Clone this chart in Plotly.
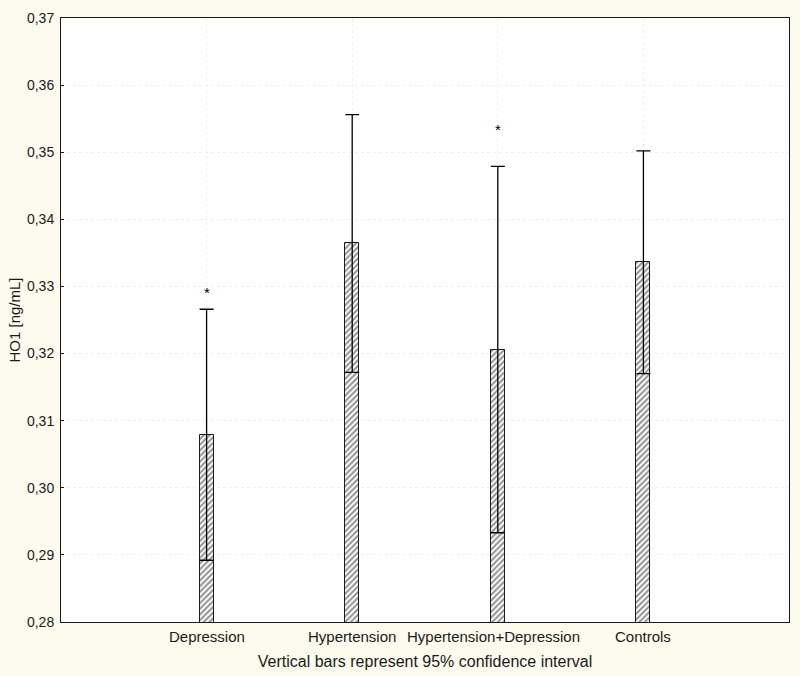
import plotly.graph_objects as go

categories = ["Depression", "Hypertension", "Hypertension+Depression", "Controls"]
means = [0.3079, 0.3364, 0.3206, 0.3336]
ci95 = [0.0187, 0.0192, 0.0273, 0.0166]
star_cats = ["Depression", "Hypertension+Depression"]
star_y = [0.3289, 0.3533]

y_ticks = [0.28, 0.29, 0.30, 0.31, 0.32, 0.33, 0.34, 0.35, 0.36, 0.37]

FONT = "Liberation Sans, Arial, sans-serif"
TXT = "#1a1a1a"
label_xshift = [0, 0, -4, 0]

fig = go.Figure()
fig.add_trace(go.Bar(
    x=categories,
    y=means,
    width=0.095,
    marker=dict(
        color="white",
        line=dict(color="#1a1a1a", width=1),
        pattern=dict(shape="/", fgcolor="#222222", bgcolor="white", size=4, solidity=0.5),
    ),
    error_y=dict(type="data", array=ci95, symmetric=True, color="black", thickness=1.3, width=7),
    hoverinfo="skip",
))

for c, yv in zip(star_cats, star_y):
    fig.add_annotation(x=c, y=yv, text="*", showarrow=False, xref="x", yref="y",
                       yanchor="middle", yshift=1,
                       font=dict(family=FONT, size=15, color="black"))

for c, dx in zip(categories, label_xshift):
    fig.add_annotation(x=c, y=0, xref="x", yref="paper", text=c, showarrow=False,
                       yanchor="top", yshift=-4, xshift=dx,
                       font=dict(family=FONT, size=15, color=TXT))

fig.update_layout(
    width=800, height=676,
    margin=dict(l=61, r=10, t=13, b=54),
    paper_bgcolor="#FDFAEE",
    plot_bgcolor="white",
    separators=", ",
    showlegend=False,
    font=dict(family=FONT, color=TXT),
    bargap=0.0,
)
fig.update_xaxes(
    type="category",
    range=[-1, 4],
    showline=True, mirror=True, linecolor="#1a1a1a", linewidth=1,
    showgrid=True, gridcolor="#f0f0f0", griddash="dot", gridwidth=1,
    ticks="", showticklabels=False,
    title=dict(text="Vertical bars represent 95% confidence interval", font=dict(size=16), standoff=33),
    zeroline=False,
)
fig.update_yaxes(
    range=[0.28, 0.37],
    tickvals=y_ticks, tickformat=".2f",
    showline=True, mirror=True, linecolor="#1a1a1a", linewidth=1,
    showgrid=True, gridcolor="#f0f0f0", griddash="dot", gridwidth=1,
    ticks="inside", ticklen=3, tickcolor="#1a1a1a",
    tickfont=dict(size=14), ticklabelstandoff=3,
    title=dict(text="HO1 [ng/mL]", font=dict(size=15), standoff=2),
    zeroline=False,
)

fig.write_html("out.html",
               config={"displayModeBar": False},
               post_script="document.body.style.margin='0';document.body.style.background='#FDFAEE';")
